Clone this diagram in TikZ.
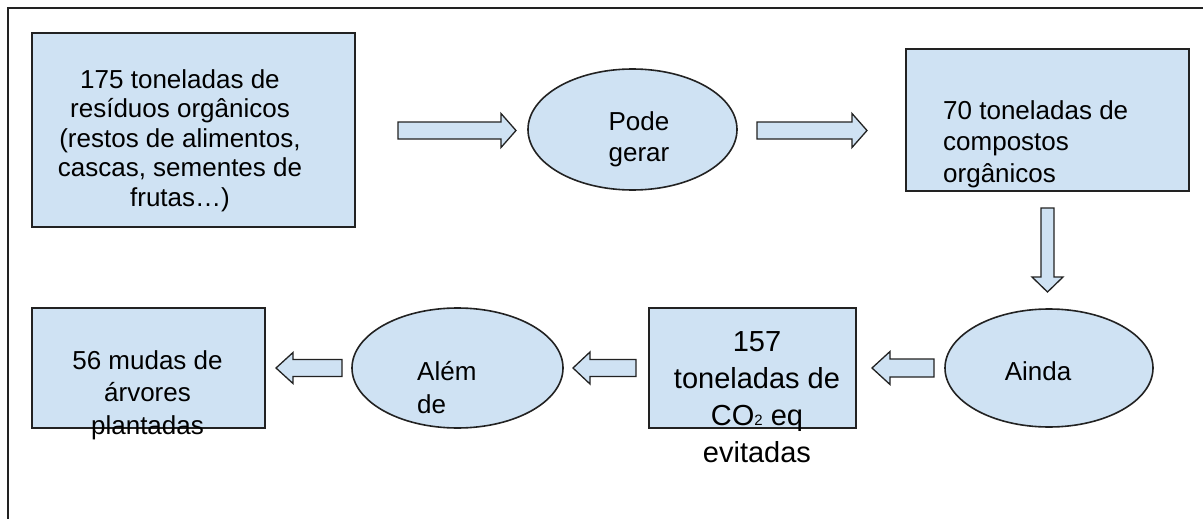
\documentclass[tikz,border=0pt]{standalone}
\usepackage{fontspec}
\setmainfont{Liberation Sans}
\usetikzlibrary{shapes.geometric}

\definecolor{boxblue}{HTML}{CFE2F3}
\definecolor{edge}{HTML}{222222}

\tikzset{
  box/.style={draw=edge, line width=1.6pt, fill=boxblue, rectangle, inner sep=0pt},
  oval/.style={draw=edge, line width=1.6pt, fill=boxblue, ellipse, inner sep=0pt},
  txt/.style={font=\fontsize{26}{30}\selectfont, align=center, inner sep=0pt},
  arrowbody/.style={draw=edge, line width=1.3pt, fill=boxblue, line join=miter},
  % block arrow: length, width over head, width of shaft, length of head
  pics/blockarrow/.style n args={4}{code={
    \draw[arrowbody] (0,-#3/2) -- (#1-#4,-#3/2) -- (#1-#4,-#2/2) -- (#1,0)
      -- (#1-#4,#2/2) -- (#1-#4,#3/2) -- (0,#3/2) -- cycle;
  }}
}

\begin{document}
\begin{tikzpicture}[x=1pt,y=-1pt]
\useasboundingbox (0,0) rectangle (1203,519);
\draw[edge, line width=2.4pt] (8,519) -- (8,8) -- (1203,8);

% shapes
\node[box, minimum width=323pt, minimum height=194pt] (res) at (193.5,130) {};
\node[oval, minimum width=209pt, minimum height=121pt] (pode) at (632.5,129.5) {};
\node[box, minimum width=283pt, minimum height=142pt] (comp) at (1047.5,120) {};
\node[oval, minimum width=208pt, minimum height=118pt] (ainda) at (1049,368) {};
\node[box, minimum width=207pt, minimum height=120pt] (co2) at (752.5,368) {};
\node[oval, minimum width=211pt, minimum height=120pt] (alem) at (457.5,368) {};
\node[box, minimum width=233pt, minimum height=120pt] (mudas) at (148.5,368) {};

% arrows
\pic at (398,130.5) {blockarrow={118}{34}{17}{15}};
\pic at (757,130.5) {blockarrow={110}{34}{17}{15}};
\pic[rotate=-90] at (1047.5,208) {blockarrow={84}{31}{13}{15}};
\pic[rotate=180] at (934,368) {blockarrow={62}{33}{18}{18}};
\pic[rotate=180] at (636,368) {blockarrow={63}{32}{17}{17}};
\pic[rotate=180] at (342,368) {blockarrow={66}{31}{17}{17}};

% texts
\node[txt, font=\fontsize{26}{29.5}\selectfont] (tres) at (180,140.5)
  {175 toneladas de\\resíduos orgânicos\\(restos de alimentos,\\cascas, sementes de\\frutas…)};
\node[txt, font=\fontsize{26}{31}\selectfont] (tpode) at (639,139) {Pode\\gerar};
\node[txt, font=\fontsize{26}{31.5}\selectfont, align=left, anchor=west] (tcomp) at (943,144)
  {70 toneladas de\\compostos\\orgânicos};
\node[txt] (tainda) at (1038,371.5) {Ainda};
\node[txt, font=\fontsize{29}{36.9}\selectfont] (tco2) at (757,397.5)
  {157\\toneladas de\\CO{\fontsize{15}{15}\selectfont 2} eq\\evitadas};
\node[txt, font=\fontsize{26}{33}\selectfont, align=left, anchor=west] (talem) at (417,387.5)
  {Além\\de};
\node[txt, font=\fontsize{26}{32.5}\selectfont] (tmudas) at (147.5,395)
  {56 mudas de\\árvores\\plantadas};
\end{tikzpicture}
\end{document}
